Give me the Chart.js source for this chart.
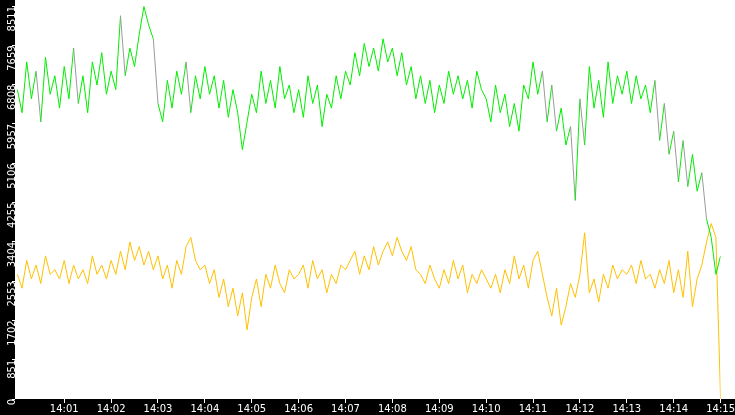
<!DOCTYPE html><html><head><style>html,body{margin:0;padding:0;background:#fff}#w{width:735px;height:415px}</style>
<script src="https://cdn.jsdelivr.net/npm/chart.js@4/dist/chart.umd.min.js"></script></head><body><div id="w"><canvas id="c"></canvas></div>
<script>
const startMinute = 0, stepMinute = 0.1;
const greenValues = [6700,6200,7300,6500,7100,6000,7400,6600,7000,6300,
7200,6500,7600,6400,7000,6200,7300,6800,7500,6600,
7100,6700,8300,7000,7600,7200,7900,8500,8100,7800,
6400,6000,6900,6300,7100,6600,7300,6200,7000,6500,
7200,6600,7000,6300,6900,6100,6700,6200,5400,6000,
6600,6200,7100,6400,6900,6300,7200,6500,6800,6200,
6700,6100,7000,6400,6800,5900,6600,6300,7000,6500,
7100,6800,7500,7000,7700,7200,7600,7100,7800,7300,
7600,7000,7500,6800,7200,6500,7000,6400,6900,6200,
6800,6400,7100,6600,7000,6500,6900,6300,7100,6700,
6500,6000,6800,6200,6600,5900,6400,5800,6800,6500,
7300,6600,7100,6000,6800,5800,6300,5500,5900,4300,
6500,5500,7200,6300,6900,6100,7300,6400,7000,6600,
7100,6400,7000,6500,6800,6200,6900,5600,6400,5300,
5800,4700,5600,4600,5300,4500,4900,3900,3500,2700,3100];
const yellowValues = [2700,2400,3000,2600,2900,2500,3100,2700,2800,2600,
3000,2500,2900,2600,2800,2500,3100,2700,2900,2600,
3000,2700,3200,2800,3400,3000,3300,2900,3200,2800,
3100,2600,2900,2400,3000,2700,3300,3500,3000,2800,
2900,2500,2800,2200,2600,2000,2400,1800,2300,1500,
2200,2600,2000,2700,2400,2900,2500,2300,2800,2600,
2700,2900,2400,3000,2600,2800,2300,2700,2500,2900,
2800,3000,3200,2700,3100,2800,3300,2900,3200,3400,
3100,3500,3200,3000,3300,2800,2700,2500,2900,2600,
2400,2800,2500,3000,2600,2900,2300,2700,2500,2800,
2600,2400,2700,2300,2800,2500,3100,2600,2900,2400,
3000,3200,2700,2200,1800,2400,1600,2000,2500,2200,
2700,3600,2300,2600,2100,2700,2400,2900,2600,2800,
2700,2900,2500,3000,2600,2700,2400,2800,2500,3000,
2300,2800,2200,3200,2000,2600,2900,3400,3800,3500,0];
const yTickStep = 851.1, yMax = 8511;
const xTickMinutes = [1,2,3,4,5,6,7,8,9,10,11,12,13,14,15];
const pts = v => v.map((y,i)=>({x:startMinute+i*stepMinute,y}));
const bg = {id:'bg',beforeDraw(c){const a=c.chartArea,x=c.ctx;x.save();x.fillStyle='#000';x.fillRect(0,0,a.left,c.height);x.fillRect(0,a.bottom,c.width,c.height-a.bottom);x.restore();}};
new Chart(document.getElementById('c'),{type:'line',
data:{datasets:[
{data:pts(greenValues),borderColor:'#00ee00',borderWidth:1,pointRadius:0,tension:0,
 segment:{borderColor:ctx=>ctx.p1.parsed.y<ctx.p0.parsed.y-900?'#9a9a9a':'#00ee00'}},
{data:pts(yellowValues),borderColor:'#ffc000',borderWidth:1,pointRadius:0,tension:0}]},
options:{animation:false,responsive:true,maintainAspectRatio:false,layout:{padding:0},
plugins:{legend:{display:false},tooltip:{enabled:false}},
scales:{
x:{type:'linear',min:-0.05,max:15,grid:{drawOnChartArea:false,color:'#fff',tickLength:4},border:{display:false},
afterBuildTicks(s){s.ticks=xTickMinutes.map(v=>({value:v}));},
ticks:{color:'#fff',font:{family:'DejaVu Sans',size:10},padding:0,maxRotation:0,autoSkip:false,callback:v=>'14:'+String(v).padStart(2,'0')}},
y:{min:0,max:yMax,grid:{drawOnChartArea:false,color:'#fff',tickLength:3},border:{display:false},
afterBuildTicks(s){const t=[];for(let i=0;i<=10;i++)t.push({value:i*yTickStep});s.ticks=t;},
ticks:{color:'#fff',font:{family:'DejaVu Sans',size:10},padding:0,minRotation:90,maxRotation:90,autoSkip:false,callback:v=>String(Math.floor(v+1e-6))}}}},
plugins:[bg]});
</script></body></html>
